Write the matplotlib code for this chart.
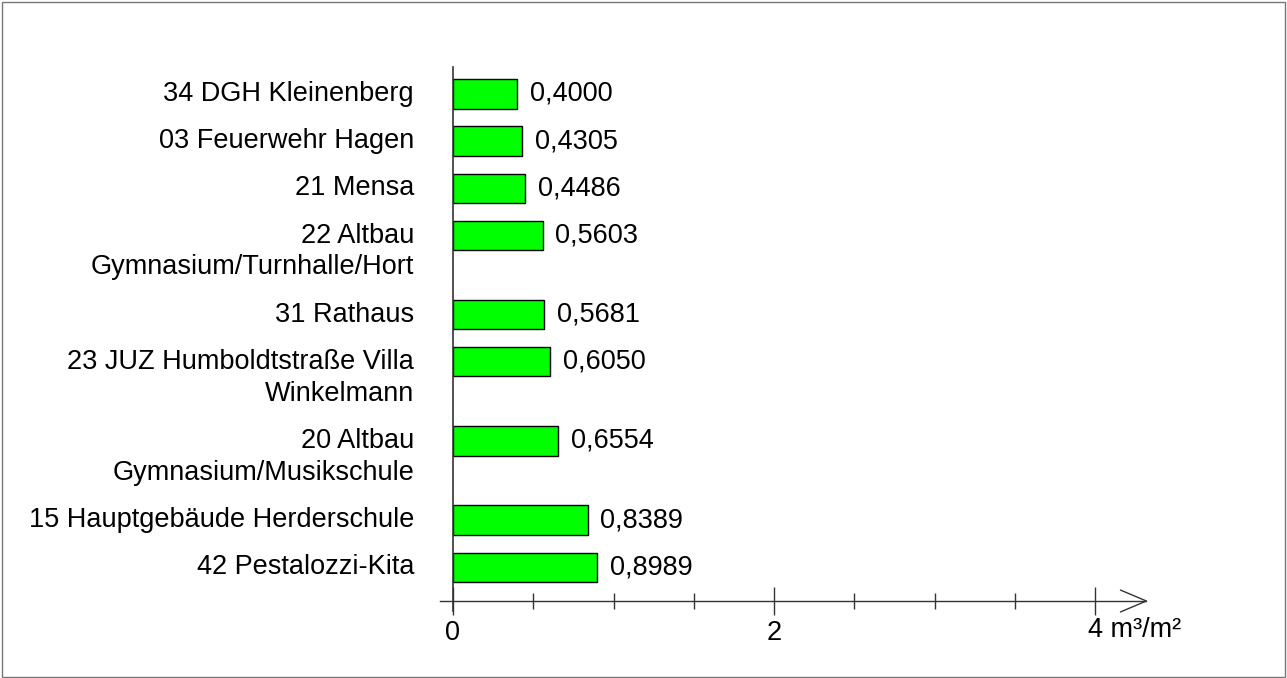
import matplotlib
matplotlib.use("Agg")
from matplotlib import pyplot as plt
from matplotlib.patches import Rectangle
import numpy as np

plt.rcParams['font.family'] = ['Liberation Sans', 'DejaVu Sans']

labels = ["34 DGH Kleinenberg", "03 Feuerwehr Hagen", "21 Mensa",
          "22 Altbau\nGymnasium/Turnhalle/Hort", "31 Rathaus",
          "23 JUZ Humboldtstraße Villa\nWinkelmann",
          "20 Altbau\nGymnasium/Musikschule",
          "15 Hauptgebäude Herderschule", "42 Pestalozzi-Kita"]
values = [0.4000, 0.4305, 0.4486, 0.5603, 0.5681, 0.6050, 0.6554, 0.8389, 0.8989]
xticks = [0, 2, 4]
unit = " m³/m²"

W, H = 1287, 678
fs = 19.5
fig = plt.figure(figsize=(W / 100, H / 100), dpi=100)

# frame around the whole picture
fig.patches.append(Rectangle((2 / W, 1 / H), 1283 / W, 675 / H, transform=fig.transFigure,
                             fill=False, edgecolor='#777777', lw=1))

# bar positions: two-line labels take more room
line_gap = 0.675
pos = []
p = 0.0
for lab in labels:
    pos.append(p)
    p += 1 + line_gap * lab.count("\n")
pos = np.array(pos)

y_top, y_axis = -0.57, 10.74
ax = fig.add_axes([453 / W, (H - 601) / H, 642 / W, (601 - 67) / H])
ax.set_xlim(0, 4)
ax.set_ylim(y_axis, y_top)
for s in ax.spines.values():
    s.set_visible(False)

ax.barh(pos, values, height=0.62, color='#00ff00', edgecolor='black', lw=1)

for y, v, lab in zip(pos, values, labels):
    ax.annotate(f"{v:.4f}".replace('.', ','), xy=(v, y), xytext=(9, 0),
                textcoords='offset points', ha='left', va='center', fontsize=fs)
    for i, line in enumerate(lab.split("\n")):
        ax.annotate(line, xy=(0, y + i * line_gap), xytext=(-28, 0),
                    textcoords='offset points', ha='right', va='center', fontsize=fs,
                    annotation_clip=False)

# vertical axis line
ax.plot([0, 0], [y_top, y_axis + 0.22], color='#333333', lw=1.2, clip_on=False)
# horizontal axis with open arrow
x0, x1 = -0.08, 4.32
ax.plot([x0, x1], [y_axis, y_axis], color='#333333', lw=1, clip_on=False)
ax.plot([x1 - 0.16, x1, x1 - 0.16], [y_axis - 0.23, y_axis, y_axis + 0.23],
        color='#333333', lw=1, clip_on=False)

ax.set_yticks([])
ax.set_xticks(xticks)
ax.set_xticks(np.arange(0, 4.01, 0.5), minor=True)
ax.set_xticklabels([str(t) for t in xticks[:-1]] + [""], fontsize=fs)
ax.tick_params(axis='x', which='major', direction='inout', length=20, width=1,
               color='#333333', pad=4)
ax.tick_params(axis='x', which='minor', direction='inout', length=12, width=1,
               color='#333333')
ax.annotate(f"{xticks[-1]}{unit}", xy=(xticks[-1], y_axis), xytext=(-5.3, -11.5),
            textcoords='offset points', ha='left', va='top', fontsize=fs,
            annotation_clip=False)

fig.savefig("out.png", dpi=100)
